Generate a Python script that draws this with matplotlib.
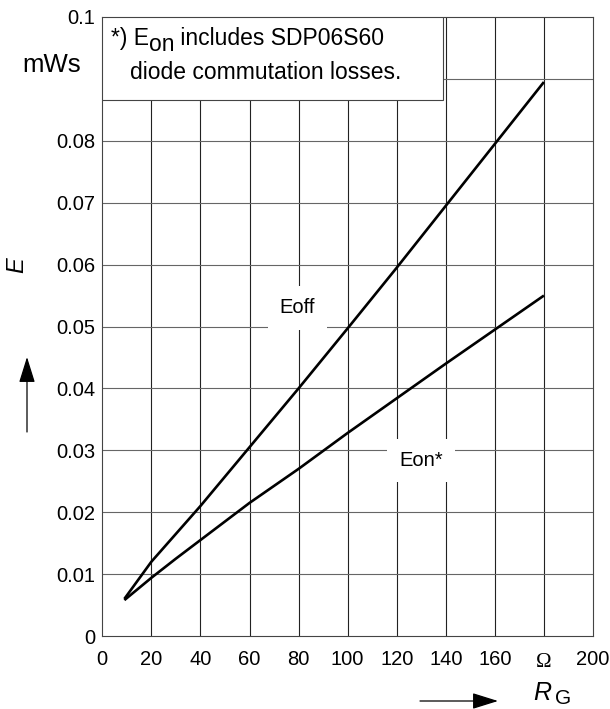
import matplotlib
matplotlib.use("Agg")
import matplotlib.pyplot as plt
from matplotlib.patches import Rectangle, FancyArrowPatch

plt.rcParams['font.family'] = ['Liberation Sans', 'DejaVu Sans']

# Data
rg = [9, 20, 30, 40, 60, 80, 100, 120, 140, 160, 180]
eoff = [0.006, 0.012, 0.0165, 0.021, 0.0305, 0.040, 0.0497, 0.0595, 0.0695, 0.0795, 0.0895]
eon = [0.0058, 0.0094, 0.0125, 0.0155, 0.0215, 0.027, 0.0328, 0.0384, 0.044, 0.0495, 0.055]

x_ticks = [0, 20, 40, 60, 80, 100, 120, 140, 160, 180, 200]
x_labels = ['0', '20', '40', '60', '80', '100', '120', '140', '160', '', '200']
y_ticks = [0, 0.01, 0.02, 0.03, 0.04, 0.05, 0.06, 0.07, 0.08, 0.09, 0.1]
y_labels = ['0', '0.01', '0.02', '0.03', '0.04', '0.05', '0.06', '0.07', '0.08', '', '0.1']

W, H = 610, 709
fig = plt.figure(figsize=(W / 100, H / 100), dpi=100)
L, R, B, T = 102.3, 593, 636, 17
ax = fig.add_axes([L / W, 1 - B / H, (R - L) / W, (B - T) / H])

ax.set_xlim(0, 200)
ax.set_ylim(0, 0.1)
ax.set_xticks(x_ticks)
ax.set_xticklabels(x_labels, fontsize=14.5)
ax.set_yticks(y_ticks)
ax.set_yticklabels(y_labels, fontsize=14.5)
ax.tick_params(axis='both', length=0)
ax.tick_params(axis='x', pad=10)
ax.tick_params(axis='y', pad=5)

for v in x_ticks[1:-1]:
    ax.axvline(v, color='#222222', lw=0.8, zorder=1)
for v in y_ticks[1:-1]:
    ax.axhline(v, color='#666666', lw=0.8, zorder=1)
for s in ax.spines.values():
    s.set_color('#444444')
    s.set_linewidth(0.8)

ax.plot(rg, eoff, color='black', lw=1.9, zorder=4, solid_capstyle='butt')
ax.plot(rg, eon, color='black', lw=1.9, zorder=4, solid_capstyle='butt')

bb = dict(boxstyle='square,pad=0.6', fc='white', ec='none')
ax.text(79.6, 0.053, 'Eoff', fontsize=14.5, ha='center', va='center', bbox=bb, zorder=3)
ax.text(130, 0.0284, 'Eon*', fontsize=14.5, ha='center', va='center', bbox=bb, zorder=3)

# Note box
ax.add_patch(Rectangle((0, 0.866), 0.694, 0.134, transform=ax.transAxes,
                       fc='white', ec='#444444', lw=0.8, zorder=3))
fs_note = 16.5
t1 = ax.text(0.0177, 0.966, '*) E', transform=ax.transAxes, fontsize=fs_note,
             ha='left', va='center', zorder=5)
t2 = ax.annotate('on', xy=(1, 0), xycoords=t1, xytext=(0, -5), textcoords='offset points',
                 fontsize=fs_note, ha='left', va='bottom', zorder=5)
t3 = ax.annotate(' includes SDP06S60', xy=(1, 0), xycoords=t2, xytext=(0, 5),
                 textcoords='offset points', fontsize=fs_note, ha='left', va='bottom', zorder=5)
ax.text(0.0564, 0.911, 'diode commutation losses.', transform=ax.transAxes, fontsize=fs_note,
        ha='left', va='center', zorder=5)

# Omega unit label at x=180
ax.annotate('Ω', xy=(180, 0), xycoords=('data', 'axes fraction'), xytext=(0, -19),
            textcoords='offset points', ha='center', va='center', fontsize=15,
            family='Liberation Serif')

# Unit label on y-axis
fig.text(52 / W, 1 - 65 / H, 'mWs', ha='center', va='center', fontsize=18.5)

# Axis labels with arrows
fig.text(17 / W, 1 - 265 / H, 'E', ha='center', va='center', fontsize=17,
         style='italic', rotation=90)
fig.text(533 / W, 1 - 693 / H, 'R', ha='left', va='center', fontsize=18, style='italic')
fig.text(555 / W, 1 - 699 / H, 'G', ha='left', va='center', fontsize=15)

aprops = dict(arrowstyle='-|>,head_length=0.8,head_width=0.25', color='black', lw=0.9,
              mutation_scale=20, shrinkA=0, shrinkB=0)
fig.add_artist(FancyArrowPatch(
    (27 / W, 1 - 432 / H), (27 / W, 1 - 357 / H), transform=fig.transFigure, **aprops))
fig.add_artist(FancyArrowPatch(
    (420 / W, 1 - 701 / H), (498 / W, 1 - 701 / H), transform=fig.transFigure, **aprops))

fig.savefig('out.png', dpi=100)
